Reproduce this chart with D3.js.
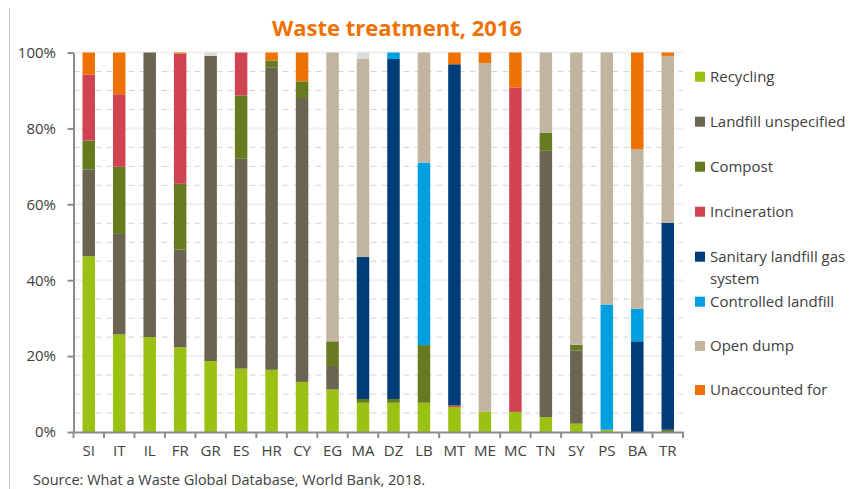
<!DOCTYPE html>
<html><head><meta charset="utf-8">
<script src="https://cdn.jsdelivr.net/npm/d3@7"></script>
<style>body{margin:0;background:#fff}svg{display:block}</style>
</head><body>
<svg id="c" width="861" height="489"></svg>
<script>
const categories = ["SI","IT","IL","FR","GR","ES","HR","CY","EG","MA","DZ","LB","MT","ME","MC","TN","SY","PS","BA","TR"];
const recycling     = [46.3,25.7,25.0,22.3,18.7,16.7,16.4,13.2,11.2,7.7,7.7,7.7,6.6,5.3,5.3,3.9,2.2,0.6,0,0];
const landfillUnsp  = [22.9,26.5,75.0,25.8,80.4,55.3,79.7,74.8,6.2,0,0,0,0,0,0,70.2,19.3,0,0,0];
const compost       = [7.6,17.7,0,17.3,0,16.7,1.8,4.4,6.5,1.0,1.0,15.2,0,0,0,4.8,1.5,0,0,0.6];
const incineration  = [17.4,19.1,0,34.3,0,11.3,0,0,0,0,0,0,0.4,0,85.5,0,0,0,0,0];
const sanitaryGas   = [0,0,0,0,0,0,0,0,0,37.4,89.6,0,89.9,0,0,0,0,0,23.9,54.5];
const controlled    = [0,0,0,0,0,0,0,0,0,0,1.7,48.1,0,0,0,0,0,33.0,8.6,0];
const openDump      = [0,0,0,0,0,0,0,0,76.1,52.2,0,29.0,0,91.9,0,21.1,77.0,66.4,42.0,44.0];
const other         = [0,0,0,0,0.9,0,0,0,0,1.7,0,0,0,0,0,0,0,0,0,0];
const unaccounted   = [5.8,11.0,0,0.3,0,0,2.1,7.6,0,0,0,0,3.1,2.8,9.2,0,0,0,25.5,0.9];
const yTicks = [0,20,40,60,80,100];

const series = [
  {key:"rec", name:"Recycling", values:recycling, color:"#9bc112", legend:true},
  {key:"lfu", name:"Landfill unspecified", values:landfillUnsp, color:"#6b6450", legend:true},
  {key:"cmp", name:"Compost", values:compost, color:"#667b1f", legend:true},
  {key:"inc", name:"Incineration", values:incineration, color:"#d04452", legend:true},
  {key:"san", name:"Sanitary landfill gas system", values:sanitaryGas, color:"#003c78", legend:true},
  {key:"ctl", name:"Controlled landfill", values:controlled, color:"#009fe0", legend:true},
  {key:"opd", name:"Open dump", values:openDump, color:"#c2b5a0", legend:true},
  {key:"oth", name:"Other", values:other, color:"#dcdcdc", legend:false},
  {key:"una", name:"Unaccounted for", values:unaccounted, color:"#ee7203", legend:true}
];

(function(){
const rows = categories.map((c,i)=>{const r={cat:c}; series.forEach(s=>r[s.key]=s.values[i]); return r;});
const stacked = d3.stack().keys(series.map(s=>s.key))(rows);

const svg = d3.select("#c");
const pl=73.5, pr=683, pt=52.5, pb=432;
const x = d3.scaleBand().domain(categories).range([pl,pr]).paddingInner(0.59).paddingOuter(0.295);
const y = d3.scaleLinear().domain([0,100]).range([pb,pt]);
const FF = "'Open Sans', sans-serif";

svg.append("line").attr("x1",9.5).attr("x2",9.5).attr("y1",8).attr("y2",489).attr("stroke","#c8c8c8").attr("stroke-width",1);

svg.append("text").attr("x",397).attr("y",36).attr("text-anchor","middle")
  .style("font-family",FF).style("font-weight","bold").style("font-size","22px")
  .attr("fill","#ee7203").text("Waste treatment, 2016");

const minor = d3.range(5,100,5).filter(v=>v%20!==0);
svg.append("g").selectAll("line").data(minor).join("line")
  .attr("x1",pl).attr("x2",pr).attr("y1",d=>y(d)).attr("y2",d=>y(d))
  .attr("stroke","#d4d4d4").attr("stroke-width",1).attr("stroke-dasharray","6,5");
svg.append("g").selectAll("line").data(yTicks.slice(1)).join("line")
  .attr("x1",pl).attr("x2",pr).attr("y1",d=>y(d)).attr("y2",d=>y(d))
  .attr("stroke","#efefef").attr("stroke-width",2);

svg.append("g").selectAll("g").data(stacked).join("g")
  .attr("fill",(d,i)=>series[i].color)
  .selectAll("rect").data(d=>d).join("rect")
  .attr("x",d=>x(d.data.cat)).attr("width",x.bandwidth())
  .attr("y",d=>y(d[1])).attr("height",d=>Math.max(0,y(d[0])-y(d[1])));

const yAxis = svg.append("g").attr("transform",`translate(${pl},0)`)
  .call(d3.axisLeft(y).tickValues(yTicks).tickFormat(d=>d+"%").tickSize(6).tickSizeOuter(0));
yAxis.select(".domain").attr("stroke","#8c8c8c").attr("stroke-width",2);
yAxis.selectAll(".tick line").attr("stroke","#8c8c8c").attr("stroke-width",2);
yAxis.selectAll(".tick text").attr("x",-17.5).attr("fill","#404040")
  .style("font-family",FF).style("font-size","15px");

const xAxis = svg.append("g").attr("transform",`translate(0,${pb})`)
  .call(d3.axisBottom(x).tickSize(0).tickSizeOuter(0));
xAxis.select(".domain").attr("stroke","#8c8c8c").attr("stroke-width",2);
xAxis.selectAll(".tick text").attr("y",19).attr("dy","0.35em").attr("fill","#404040")
  .style("font-family",FF).style("font-size","15px");
const step = x.step();
const bounds = d3.range(categories.length+1).map(i=>x(categories[0]) - x.paddingOuter()*step + i*step);
xAxis.append("g").selectAll("line").data(bounds).join("line")
  .attr("x1",d=>d).attr("x2",d=>d).attr("y1",0).attr("y2",6)
  .attr("stroke","#8c8c8c").attr("stroke-width",2);

const legItems = series.filter(s=>s.legend);
const legY = [76.7,121.7,166.7,211.7,256.7,301.7,346,390];
const lg = svg.append("g").style("font-family",FF).style("font-size","15px");
legItems.forEach((s,i)=>{
  const g = lg.append("g").attr("transform",`translate(695,${legY[i]})`);
  g.append("rect").attr("x",0).attr("y",-5).attr("width",10).attr("height",10).attr("fill",s.color);
  const t = g.append("text").attr("x",15).attr("y",0).attr("dy","0.35em").attr("fill","#404040");
  if (s.key==="san") {
    t.append("tspan").attr("x",15).text("Sanitary landfill gas");
    t.append("tspan").attr("x",15).attr("dy","1.45em").text("system");
  } else t.text(s.name);
});

svg.append("text").attr("x",33).attr("y",485).attr("fill","#404040")
  .style("font-family",FF).style("font-size","14.5px")
  .text("Source: What a Waste Global Database, World Bank, 2018.");
})();
</script>
</body></html>
